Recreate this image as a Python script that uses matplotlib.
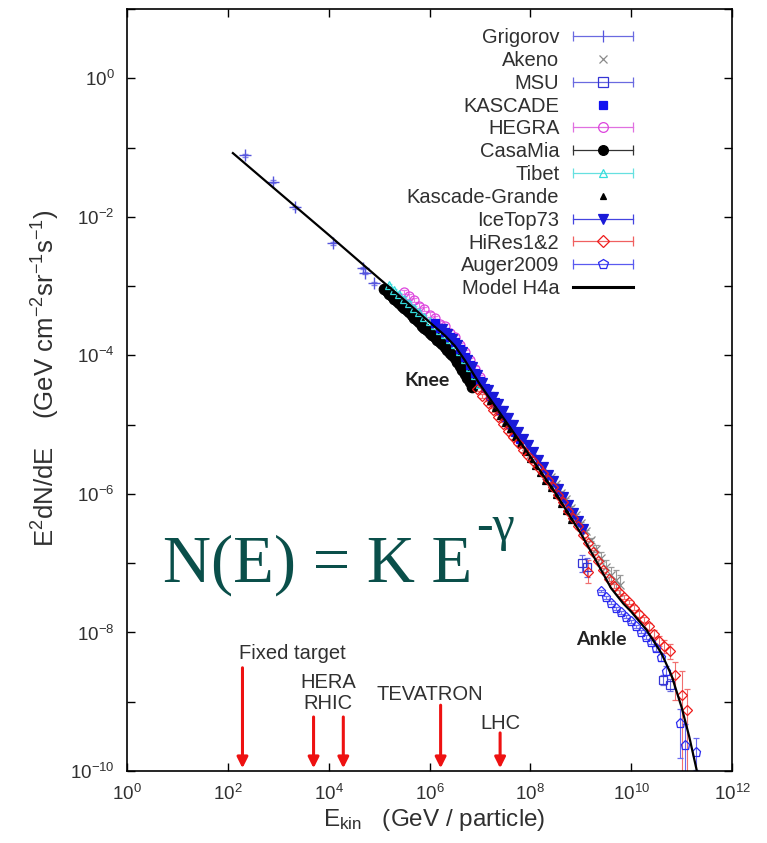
# cosmic ray all-particle spectrum, E^2 dN/dE vs kinetic energy
import numpy as np
import matplotlib
matplotlib.use('Agg')
import matplotlib.pyplot as plt
from matplotlib.lines import Line2D
from matplotlib.legend_handler import HandlerLine2D, HandlerTuple

plt.rcParams['font.family'] = ['Liberation Sans', 'DejaVu Sans']
plt.rcParams['mathtext.fontset'] = 'custom'
plt.rcParams['mathtext.rm'] = 'Liberation Sans'
plt.rcParams['mathtext.it'] = 'Liberation Sans:italic'
plt.rcParams['mathtext.bf'] = 'Liberation Sans:bold'

# ---- data (log10 E [GeV], log10 E^2 dN/dE) ----
model_logE = [2.10, 3.0, 4.0, 5.0, 5.5, 6.0, 6.3, 6.5, 6.7, 7.0, 7.5, 8.0, 8.5, 9.0,
              9.3, 9.6, 9.84, 10.0, 10.3, 10.6, 10.8, 11.0, 11.15, 11.3]
model_logF = [-1.08, -1.64, -2.26, -2.89, -3.20, -3.52, -3.71, -3.86, -4.07, -4.42, -4.94,
              -5.46, -5.99, -6.57, -6.96, -7.36, -7.58, -7.70, -7.96, -8.30, -8.62, -9.08,
              -9.50, -9.99]

grigorov_logE = [2.34, 2.90, 3.33, 4.09, 4.68, 4.72, 4.90]
grigorov_logF = [-1.11, -1.49, -1.86, -2.38, -2.74, -2.81, -2.96]

casamia_logE = [5.10, 5.15, 5.20, 5.25, 5.30, 5.35, 5.40, 5.45, 5.50, 5.55, 5.60, 5.65,
                5.70, 5.75, 5.80, 5.85, 5.90, 5.95, 6.00, 6.05, 6.10, 6.15, 6.20, 6.25,
                6.30, 6.35, 6.40, 6.45, 6.50, 6.55, 6.60, 6.65, 6.70, 6.75, 6.80, 6.85]
casamia_logF = [-3.04, -3.07, -3.11, -3.15, -3.18, -3.22, -3.25, -3.28, -3.32, -3.35, -3.38,
                -3.42, -3.46, -3.49, -3.52, -3.57, -3.60, -3.63, -3.67, -3.70, -3.73, -3.78,
                -3.81, -3.84, -3.88, -3.92, -3.96, -4.00, -4.04, -4.09, -4.16, -4.21, -4.27,
                -4.33, -4.39, -4.45]

tibet_logE = [5.2, 5.3, 5.4, 5.5, 5.6, 5.7, 5.8, 5.9, 6.0, 6.1, 6.2, 6.3, 6.4, 6.5, 6.6,
              6.7, 6.8, 6.9, 7.0]
tibet_logF = [-2.99, -3.06, -3.12, -3.18, -3.24, -3.31, -3.37, -3.44, -3.50, -3.56, -3.63,
              -3.69, -3.76, -3.84, -3.94, -4.05, -4.17, -4.29, -4.41]

hegra_logE = [5.5, 5.6, 5.7, 5.8, 5.9, 6.0, 6.1, 6.2, 6.3, 6.4, 6.5, 6.6, 6.7, 6.8, 6.9, 7.0]
hegra_logF = [-3.08, -3.15, -3.20, -3.28, -3.33, -3.41, -3.46, -3.54, -3.58, -3.67, -3.74,
              -3.85, -3.95, -4.07, -4.19, -4.31]

kascade_logE = [6.1, 6.2, 6.3, 6.4, 6.5, 6.6, 6.7, 6.8, 6.9, 7.0, 7.1, 7.2, 7.3, 7.4, 7.5,
                7.6, 7.7, 7.8]
kascade_logF = [-3.53, -3.60, -3.66, -3.73, -3.81, -3.91, -4.02, -4.14, -4.26, -4.37, -4.47,
                -4.58, -4.68, -4.79, -4.89, -4.99, -5.10, -5.20]

kgrande_logE = [7.2, 7.3, 7.4, 7.5, 7.6, 7.7, 7.8, 7.9, 8.0, 8.1, 8.2, 8.3, 8.4, 8.5, 8.6,
                8.7, 8.8]
kgrande_logF = [-4.66, -4.76, -4.87, -4.97, -5.07, -5.18, -5.28, -5.39, -5.49, -5.60, -5.70,
                -5.81, -5.91, -6.02, -6.14, -6.25, -6.37]

icetop_logE = [6.25, 6.35, 6.45, 6.55, 6.65, 6.75, 6.85, 6.95, 7.05, 7.15, 7.25, 7.35, 7.45,
               7.55, 7.65, 7.75, 7.85, 7.95, 8.05, 8.15, 8.25, 8.35, 8.45, 8.55, 8.65, 8.75,
               8.85, 8.95, 9.05]
icetop_logF = [-3.62, -3.69, -3.76, -3.85, -3.95, -4.06, -4.17, -4.29, -4.40, -4.50, -4.60,
               -4.70, -4.80, -4.90, -5.00, -5.10, -5.20, -5.30, -5.40, -5.51, -5.61, -5.72,
               -5.82, -5.93, -6.04, -6.16, -6.27, -6.39, -6.51]

hires_logE = [6.95, 7.05, 7.15, 7.25, 7.35, 7.45, 7.55, 7.65, 7.75, 7.85, 7.95, 8.05, 8.15,
              8.25, 8.35, 8.45, 8.55, 8.65, 8.75, 8.85, 8.95, 9.05, 9.15, 9.25, 9.35, 9.45,
              9.55, 9.65, 9.75, 9.85, 9.95, 10.05, 10.15, 10.25, 10.35, 10.45, 10.55, 10.65,
              10.77, 10.87, 11.00, 11.11, 9.15]
hires_logF = [-4.49, -4.59, -4.69, -4.79, -4.89, -4.99, -5.09, -5.18, -5.27, -5.36, -5.45,
              -5.53, -5.61, -5.70, -5.80, -5.90, -6.01, -6.12, -6.24, -6.35, -6.47, -6.59,
              -6.71, -6.84, -6.97, -7.10, -7.23, -7.33, -7.41, -7.49, -7.56, -7.64, -7.73,
              -7.81, -7.91, -8.02, -8.12, -8.20, -8.27, -8.62, -8.90, -9.12, -7.12]
hires_err_lo = [0.03, 0.03, 0.03, 0.03, 0.03, 0.03, 0.03, 0.03, 0.03, 0.03, 0.03, 0.03, 0.03,
                0.03, 0.03, 0.03, 0.03, 0.03, 0.03, 0.03, 0.03, 0.03, 0.03, 0.03, 0.03, 0.03,
                0.03, 0.03, 0.03, 0.03, 0.03, 0.03, 0.04, 0.04, 0.05, 0.05, 0.07, 0.10,
                0.12, 0.35, 3.0, 3.0, 0.17]
hires_err_hi = [0.03, 0.03, 0.03, 0.03, 0.03, 0.03, 0.03, 0.03, 0.03, 0.03, 0.03, 0.03, 0.03,
                0.03, 0.03, 0.03, 0.03, 0.03, 0.03, 0.03, 0.03, 0.03, 0.03, 0.03, 0.03, 0.03,
                0.03, 0.03, 0.03, 0.03, 0.03, 0.03, 0.04, 0.04, 0.05, 0.05, 0.07, 0.09,
                0.11, 0.20, 0.35, 0.30, 0.17]

akeno_logE = [8.40, 8.50, 8.60, 8.70, 8.80, 8.90, 9.00, 9.10, 9.20, 9.30, 9.40, 9.50, 9.60,
              9.70, 9.78]
akeno_logF = [-5.76, -5.86, -5.98, -6.08, -6.20, -6.31, -6.42, -6.54, -6.66, -6.79, -6.92,
              -7.05, -7.17, -7.24, -7.32]
akeno_err = [0.02, 0.02, 0.02, 0.02, 0.02, 0.02, 0.02, 0.02, 0.02, 0.05, 0.08, 0.10, 0.12,
             0.14, 0.15]

auger_logE = [9.40, 9.50, 9.60, 9.70, 9.80, 9.90, 10.00, 10.10, 10.20, 10.30, 10.40, 10.50,
              10.60, 10.70, 10.97, 11.07, 11.29]
auger_logF = [-7.40, -7.49, -7.57, -7.65, -7.71, -7.77, -7.84, -7.91, -7.99, -8.06, -8.14,
              -8.23, -8.36, -8.55, -9.31, -9.62, -9.73]
auger_err_lo = [0.02, 0.02, 0.02, 0.02, 0.02, 0.02, 0.02, 0.02, 0.02, 0.03, 0.03, 0.04, 0.05,
                0.07, 0.5, 3.0, 0.25]
auger_err_hi = [0.02, 0.02, 0.02, 0.02, 0.02, 0.02, 0.02, 0.02, 0.02, 0.03, 0.03, 0.04, 0.05,
                0.07, 0.2, 0.3, 0.2]

msu_logE = [9.02, 9.12, 10.64, 10.77]
msu_logF = [-7.00, -7.06, -8.69, -8.76]
msu_err = [0.12, 0.14, 0.07, 0.09]

# accelerator arrows
acc_logE = [2.29, 3.70, 4.29, 6.22, 7.40]
acc_top = [-8.51, -9.22, -9.22, -9.05, -9.45]
acc_labels = ['Fixed target', 'HERA', 'RHIC', 'TEVATRON', 'LHC']
acc_label_logE = [3.27, 3.99, 3.99, 6.01, 7.40]
acc_label_logF = [-8.30, -8.72, -9.03, -8.90, -9.31]

legend_labels = ['Grigorov', 'Akeno', 'MSU', 'KASCADE', 'HEGRA', 'CasaMia', 'Tibet',
                 'Kascade-Grande', 'IceTop73', 'HiRes1&2', 'Auger2009', 'Model H4a']

fig = plt.figure(figsize=(7.67, 8.43), dpi=100)
ax = fig.add_axes([0.1656, 0.0854, 0.7888, 0.9039])


def draw(logE, logF, err_lo, err_hi, marker, color, ecolor, ms, filled, mew=0.9, z=2):
    lf = np.array(logF)
    lo = np.broadcast_to(np.array(err_lo, dtype=float), lf.shape)
    hi = np.broadcast_to(np.array(err_hi, dtype=float), lf.shape)
    F = 10**lf
    yerr = [F - 10**(lf - lo), 10**(lf + hi) - F]
    ax.errorbar(10**np.array(logE), F, yerr=yerr, fmt=marker, ms=ms,
                mfc=color if filled else 'none', mec=color, mew=mew, color=color,
                ecolor=ecolor, elinewidth=0.8, capsize=2.5, capthick=0.8, zorder=z)


draw(grigorov_logE, grigorov_logF, 0.02, 0.02, '+', '#5555dd', '#8888e8', 8, False, mew=1.0)
draw(akeno_logE, akeno_logF, akeno_err, akeno_err, 'x', '#8a8a8a', '#9a9a9a', 6, False)
draw(msu_logE, msu_logF, msu_err, msu_err, 's', '#3535d5', '#6a6ae0', 6, False)
draw(hegra_logE, hegra_logF, 0.03, 0.03, 'o', '#dd44dd', '#e878e8', 6.5, False)
draw(casamia_logE, casamia_logF, 0.03, 0.03, 'o', 'black', '#444444', 7.5, True)
draw(tibet_logE, tibet_logF, 0.02, 0.02, '^', '#33dddd', '#77e8e8', 6, False)
draw(kascade_logE, kascade_logF, 0.02, 0.02, 's', '#1010f0', '#5050f0', 6, True)
draw(kgrande_logE, kgrande_logF, 0.02, 0.02, '^', 'black', '#444444', 4, True)
draw(icetop_logE, icetop_logF, 0.03, 0.03, 'v', '#1a1ad8', '#5050e0', 6.5, True)
draw(hires_logE, hires_logF, hires_err_lo, hires_err_hi, 'D', '#ee1a1a', '#f07070', 5.5, False)
draw(auger_logE, auger_logF, auger_err_lo, auger_err_hi, 'p', '#2a2af0', '#6a6af0', 6.5, False)

ax.plot(10**np.array(model_logE), 10**np.array(model_logF), color='black', lw=1.6, zorder=5)

# text annotations
ax.text(10**5.95, 10**-4.36, 'Knee', ha='center', va='center', fontsize=14,
        fontweight='bold', family='Lato', color='#222222', zorder=6)
ax.text(10**9.40, 10**-8.10, 'Ankle', ha='center', va='center', fontsize=14,
        fontweight='bold', family='Lato', color='#222222', zorder=6)

formula = ax.text(10**0.71, 10**-7.27, 'N(E) = K E', fontsize=48, family='Liberation Serif',
                  color='#0a4f4a', ha='left', va='baseline', zorder=6)
ax.annotate('-\u03b3', xy=(1.0, 1.0), xycoords=formula, xytext=(3, -4),
            textcoords='offset points', fontsize=36, family='Liberation Serif',
            color='#0a4f4a', ha='left', va='baseline')

for e, top in zip(acc_logE, acc_top):
    ax.annotate('', xy=(10**e, 10**-9.96), xytext=(10**e, 10**top),
                arrowprops=dict(arrowstyle='-|>', color='#ee1111', lw=2.2,
                                mutation_scale=16, shrinkA=0, shrinkB=0), zorder=6)
for lab, e, f in zip(acc_labels, acc_label_logE, acc_label_logF):
    ax.text(10**e, 10**f, lab, ha='center', va='center', fontsize=14.5, color='#303030')

# axes
ax.set_xscale('log')
ax.set_yscale('log')
ax.set_xlim(1, 1e12)
ax.set_ylim(1e-10, 10)
xt = np.arange(0, 13, 2)
ax.set_xticks(10.0**xt)
ax.set_xticklabels([r'$10^{%d}$' % n for n in xt])
ax.xaxis.set_minor_locator(matplotlib.ticker.NullLocator())
yt = np.arange(-10, 2)
ax.set_yticks(10.0**yt)
ax.set_yticklabels([r'$10^{%d}$' % n if (n % 2 == 0 and n <= 0) else '' for n in yt])
ax.yaxis.set_minor_locator(matplotlib.ticker.NullLocator())
ax.tick_params(direction='in', length=6, width=1, top=True, right=True, labelsize=13.5,
               labelcolor='#303030', pad=9)
for s in ax.spines.values():
    s.set_linewidth(1.2)

ax.set_ylabel(r'E$^2$dN/dE    (GeV cm$^{-2}$sr$^{-1}$s$^{-1}$)', fontsize=18.5, color='#303030')
ax.yaxis.set_label_coords(-0.108, 0.516)
ax.set_xlabel(r'E$_{\rm kin}$   (GeV / particle)', fontsize=17.5, color='#303030')
ax.xaxis.set_label_coords(0.507, -0.047)


# legend: label first, then a horizontal error bar sample with the marker in the middle
class CapLine(Line2D):
    pass


def leg_handle(color, ecolor, marker, ms, filled, bar=True):
    mk = Line2D([], [], ls='none', marker=marker, ms=ms, mfc=color if filled else 'none',
                mec=color, mew=0.9, color=color)
    if not bar:
        return mk
    cap = CapLine([], [], color=ecolor, lw=0.9, marker='|', ms=7, mew=0.9)
    return (cap, mk)


handles = [
    leg_handle('#5555dd', '#6a6ae0', '|', 8, False),
    leg_handle('#8a8a8a', '#8a8a8a', 'x', 6, False, bar=False),
    leg_handle('#3535d5', '#6a6ae0', 's', 7, False),
    leg_handle('#1010f0', '#1010f0', 's', 6, True, bar=False),
    leg_handle('#dd44dd', '#e070e0', 'o', 7, False),
    leg_handle('black', '#333333', 'o', 7, True),
    leg_handle('#33dddd', '#66e0e0', '^', 6, False),
    leg_handle('black', 'black', '^', 5, True, bar=False),
    leg_handle('#1a1ad8', '#4444e0', 'v', 6.5, True),
    leg_handle('#ee1a1a', '#f06060', 'D', 6, False),
    leg_handle('#2a2af0', '#5a5af0', 'p', 7, False),
    Line2D([], [], color='black', lw=2.2),
]
leg = ax.legend(handles, legend_labels, loc='upper right', bbox_to_anchor=(0.836, 0.975),
                markerfirst=False, frameon=False, fontsize=14.5, handlelength=2.95,
                handletextpad=0.7, labelspacing=0.19, borderpad=0, borderaxespad=0,
                numpoints=1,
                handler_map={CapLine: HandlerLine2D(numpoints=2, marker_pad=0),
                             tuple: HandlerTuple(ndivide=1, pad=0)})
for t in leg.get_texts():
    t.set_color('#303030')

fig.savefig('out.png', dpi=100)
